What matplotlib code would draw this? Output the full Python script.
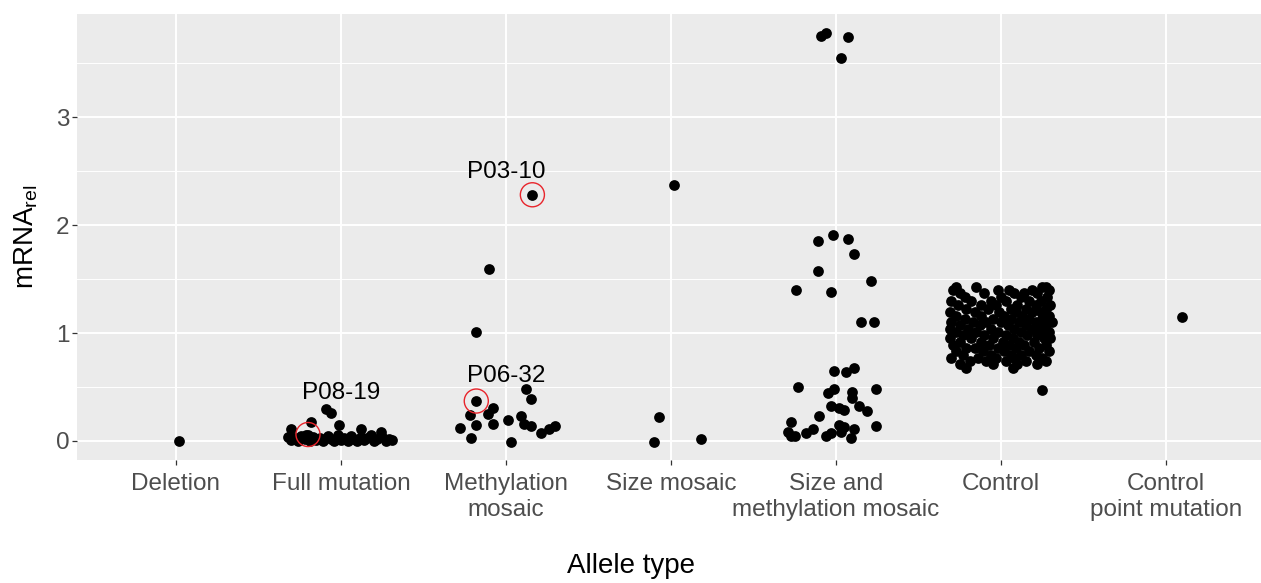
import numpy as np
import matplotlib
matplotlib.use("Agg")
import matplotlib.pyplot as plt

plt.rcParams['font.family'] = ['Liberation Sans', 'DejaVu Sans']
plt.rcParams['mathtext.fontset'] = 'custom'
plt.rcParams['mathtext.rm'] = 'Liberation Sans'
plt.rcParams['mathtext.it'] = 'Liberation Sans'

# categories (x axis)
categories = ['Deletion', 'Full mutation', 'Methylation\nmosaic', 'Size mosaic',
              'Size and\nmethylation mosaic', 'Control', 'Control\npoint mutation']

# jitter offsets (in category units) and mRNA_rel values
deletion_jit = [0.02]
deletion_val = [0.00]

full_jit = [-0.09, -0.06, -0.18, -0.01, -0.30, 0.12, 0.24, -0.21,
            -0.32, -0.30, -0.28, -0.26, -0.24, -0.22, -0.19, -0.17, -0.15, -0.13,
            -0.11, -0.08, -0.06, -0.04, -0.02, 0.00, 0.02, 0.04, 0.06, 0.08,
            0.10, 0.12, 0.14, 0.16, 0.18, 0.20, 0.22, 0.25, 0.27, 0.29, 0.31, -0.20]
full_val = [0.30, 0.26, 0.18, 0.15, 0.11, 0.11, 0.08, 0.06,
            0.04, 0.01, 0.03, 0.00, 0.05, 0.02, 0.00, 0.04, 0.01, 0.03,
            0.00, 0.05, 0.02, 0.00, 0.06, 0.01, 0.03, 0.00, 0.05, 0.02,
            0.00, 0.04, 0.01, 0.03, 0.06, 0.00, 0.02, 0.04, 0.00, 0.02, 0.01, 0.06]

meth_jit = [0.16, -0.10, -0.18, -0.18, 0.12, 0.15, -0.08, -0.11, -0.22, 0.09,
            0.01, -0.08, -0.18, 0.11, 0.15, -0.28, 0.30, 0.26, 0.21, -0.21, 0.03]
meth_val = [2.28, 1.59, 1.01, 0.37, 0.48, 0.39, 0.31, 0.25, 0.24, 0.23,
            0.19, 0.16, 0.15, 0.16, 0.14, 0.12, 0.14, 0.11, 0.07, 0.03, -0.01]

size_jit = [0.02, -0.07, -0.10, 0.18]
size_val = [2.37, 0.22, -0.01, 0.02]

sm_jit = [-0.09, -0.06, 0.07, 0.03, -0.02, -0.11, 0.07, 0.11, -0.11, 0.21,
          -0.24, -0.03, 0.15, 0.23, -0.01, 0.06, 0.11, -0.23, -0.01, 0.24,
          -0.05, 0.10, 0.10, -0.03, 0.02, 0.05, 0.14, 0.19, -0.10, -0.27,
          0.24, 0.02, 0.05, 0.11, 0.03, -0.14, -0.18, -0.29, -0.27, -0.25,
          -0.06, -0.03, 0.09]
sm_val = [3.75, 3.78, 3.74, 3.55, 1.91, 1.85, 1.87, 1.73, 1.57, 1.48,
          1.40, 1.38, 1.10, 1.10, 0.65, 0.64, 0.68, 0.50, 0.48, 0.48,
          0.44, 0.45, 0.40, 0.32, 0.31, 0.29, 0.32, 0.28, 0.23, 0.18,
          0.14, 0.15, 0.13, 0.11, 0.08, 0.11, 0.07, 0.08, 0.05, 0.05,
          0.05, 0.07, 0.03]

# control: rows of (value, jitter offsets)
ctrl_rows = [
    (1.43, [-0.27, -0.15, 0.25, 0.27]),
    (1.40, [-0.29, -0.02, 0.05, 0.19, 0.29]),
    (1.37, [-0.25, -0.10, 0.08, 0.14, 0.22]),
    (1.33, [-0.22, 0.00, 0.12, 0.28]),
    (1.30, [-0.30, -0.18, -0.06, 0.03, 0.17, 0.24]),
    (1.26, [-0.26, -0.12, -0.03, 0.10, 0.21, 0.30]),
    (1.22, [-0.21, -0.08, 0.06, 0.15, 0.27]),
    (1.19, [-0.31, -0.16, -0.01, 0.09, 0.19, 0.24]),
    (1.16, [-0.27, -0.12, 0.02, 0.13, 0.29]),
    (1.13, [-0.22, -0.05, 0.06, 0.17, 0.25]),
    (1.10, [-0.30, -0.17, -0.09, 0.00, 0.11, 0.21, 0.31]),
    (1.07, [-0.25, -0.13, 0.04, 0.15, 0.27]),
    (1.04, [-0.31, -0.20, -0.06, 0.08, 0.19, 0.24]),
    (1.01, [-0.27, -0.15, -0.02, 0.12, 0.29]),
    (0.98, [-0.23, -0.10, 0.03, 0.16, 0.22]),
    (0.95, [-0.31, -0.18, -0.05, 0.07, 0.26, 0.30]),
    (0.92, [-0.25, -0.12, 0.01, 0.11, 0.20]),
    (0.89, [-0.29, -0.07, 0.05, 0.14, 0.27]),
    (0.86, [-0.21, -0.16, -0.02, 0.09, 0.23]),
    (0.83, [-0.27, -0.11, 0.02, 0.17, 0.29]),
    (0.80, [-0.23, -0.06, 0.06, 0.12, 0.21]),
    (0.77, [-0.30, -0.14, -0.03, 0.08, 0.25]),
    (0.74, [-0.19, -0.09, 0.03, 0.15, 0.27]),
    (0.71, [-0.25, -0.05, 0.10, 0.22]),
    (0.68, [-0.21, 0.07]),
    (0.47, [0.25]),
]

cpm_jit = [0.10]
cpm_val = [1.15]

# highlighted samples
hl_labels = ['P08-19', 'P06-32', 'P03-10']
hl_cat = [2, 3, 3]
hl_jit = [-0.20, -0.18, 0.16]
hl_val = [0.06, 0.37, 2.28]
hl_text_y = [0.44, 0.60, 2.49]

ctrl_jit = []
ctrl_val = []
for v, offs in ctrl_rows:
    for o in offs:
        ctrl_jit.append(o)
        ctrl_val.append(v)

groups = [(deletion_jit, deletion_val), (full_jit, full_val), (meth_jit, meth_val),
          (size_jit, size_val), (sm_jit, sm_val), (ctrl_jit, ctrl_val), (cpm_jit, cpm_val)]

fig = plt.figure(figsize=(12.61, 5.83), dpi=100)
ax = fig.add_axes([77 / 1261, 123 / 583, 1184 / 1261, 446 / 583])
ax.set_facecolor('#EBEBEB')

for i, (jit, val) in enumerate(groups):
    x = (i + 1) + np.array(jit)
    ax.scatter(x, val, s=60, color='black', linewidths=0, zorder=3)

hx = np.array(hl_cat) + np.array(hl_jit)
ax.scatter(hx, hl_val, s=300, facecolors='none', edgecolors='#E8242B', linewidths=1.0, zorder=4)
for lab, c, ty in zip(hl_labels, hl_cat, hl_text_y):
    ax.text(c, ty, lab, ha='center', va='center', fontsize=17.5, color='black', zorder=5)

ax.set_xlim(0.4, 7.576)
ax.set_ylim(-0.176, 3.954)
ax.set_xticks(np.arange(1, 8))
ax.set_xticklabels(categories)
ax.set_yticks([0, 1, 2, 3])
ax.set_yticks([0.5, 1.5, 2.5, 3.5], minor=True)
ax.grid(which='major', color='white', linewidth=1.4)
ax.grid(which='minor', axis='y', color='white', linewidth=0.7)
ax.set_axisbelow(True)
for s in ax.spines.values():
    s.set_visible(False)
ax.tick_params(axis='both', which='major', length=3.5, width=0.9, color='#333333',
               labelsize=17.5, labelcolor='#4D4D4D')
ax.tick_params(axis='x', which='major', pad=6)
ax.tick_params(axis='y', which='major', pad=2)
ax.tick_params(axis='y', which='minor', length=0)
for t in ax.get_xticklabels():
    t.set_linespacing(1.2)

ax.set_xlabel('Allele type', fontsize=20, va='center')
ax.xaxis.set_label_coords((631 - 77) / 1184, -106 / 446)
ax.set_ylabel(r'mRNA$_{\rm rel}$', fontsize=20, va='center')
ax.yaxis.set_label_coords(-50.5 / 1184, 0.5)

fig.savefig('out.png', dpi=100)
